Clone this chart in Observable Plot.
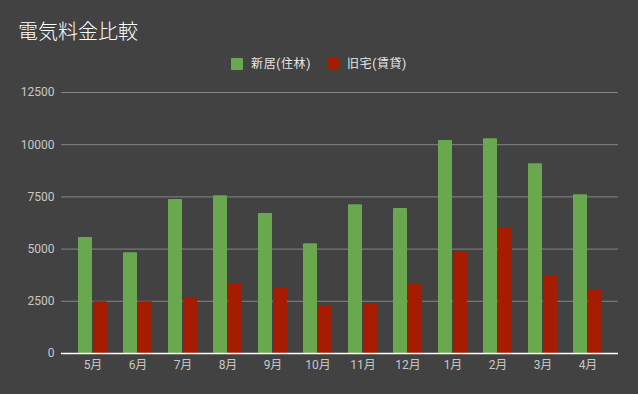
<!DOCTYPE html>
<html><head><meta charset="utf-8">
<script src="https://cdn.jsdelivr.net/npm/d3@7"></script>
<script src="https://cdn.jsdelivr.net/npm/@observablehq/plot@0.6"></script>
<style>
body{margin:0;background:#424242;}
#wrap{width:638px;height:394px;background:#424242;font-family:Roboto,"Noto Sans CJK JP",sans-serif;overflow:hidden;}
#head{position:relative;height:80px;}
#title{position:absolute;left:18px;top:20px;font-size:20px;line-height:24px;color:#ffffff;font-weight:300;}
#legend{position:absolute;top:56px;left:0;width:638px;display:flex;justify-content:center;align-items:center;font-size:12px;line-height:16px;color:#e8e8e8;letter-spacing:0.6px;}
.item{display:flex;align-items:center;margin:0 8px;}
.sw{width:12px;height:12px;border-radius:1px;margin-right:8px;}
svg{display:block;}
</style>
</head><body>
<div id="wrap">
  <div id="head">
    <div id="title">電気料金比較</div>
    <div id="legend"></div>
  </div>
  <div id="chart"></div>
</div>
<script>
const title = "電気料金比較";
const months = ["5月","6月","7月","8月","9月","10月","11月","12月","1月","2月","3月","4月"];
const seriesNames = ["新居(住林)","旧宅(賃貸)"];
const seriesColors = ["#6aa84f","#a61c00"];
const newHome = [5550,4830,7370,7560,6700,5260,7130,6940,10200,10290,9090,7600];
const oldHome = [2480,2480,2640,3340,3150,2250,2350,3340,4860,6000,3690,3020];
const yTicks = [0,2500,5000,7500,10000,12500];

const legend = document.getElementById("legend");
seriesNames.forEach((n,i)=>{
  const it = document.createElement("div"); it.className="item";
  const sw = document.createElement("div"); sw.className="sw"; sw.style.background=seriesColors[i];
  const tx = document.createElement("span"); tx.textContent=n;
  it.appendChild(sw); it.appendChild(tx); legend.appendChild(it);
});

const dNew = months.map((m,i)=>({month:m, value:newHome[i]}));
const dOld = months.map((m,i)=>({month:m, value:oldHome[i]}));

const chart = Plot.plot({
  width: 638, height: 314,
  marginTop: 12, marginBottom: 41, marginLeft: 61, marginRight: 20,
  style: {background: "transparent", color: "#c8c8c8", fontFamily: 'Roboto,"Noto Sans CJK JP",sans-serif', fontSize: "12px"},
  x: {domain: months, paddingInner: 0.36, paddingOuter: 0.348, label: null},
  y: {domain: [0, 12500], label: null},
  marks: [
    Plot.gridY(yTicks, {stroke: "#858585", strokeOpacity: 1}),
    Plot.axisY(yTicks, {tickSize: 0, tickPadding: 7, fill: "#c8c8c8", label: null, tickFormat: d => String(d)}),
    Plot.axisX({tickSize: 0, tickPadding: 7, fill: "#c8c8c8", label: null}),
    Plot.barY(dNew, {x: "month", y: "value", fill: seriesColors[0], insetRight: 15, rx: 1}),
    Plot.barY(dOld, {x: "month", y: "value", fill: seriesColors[1], insetLeft: 15, rx: 1}),
    Plot.ruleY([0], {stroke: "#ffffff", strokeWidth: 1.5})
  ]
});
document.getElementById("chart").appendChild(chart);
</script>
</body></html>
